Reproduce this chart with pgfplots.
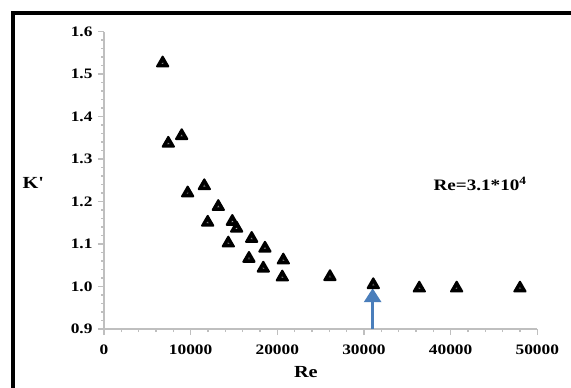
\documentclass[border=0pt]{standalone}
\usepackage{pgfplots}
\pgfplotsset{compat=1.18}
\usepackage{pgfplotstable}
\usepackage{fontspec}
\setmainfont{Liberation Serif}[FakeStretch=1.2]
\usetikzlibrary{arrows.meta}
\definecolor{axisgray}{RGB}{191,191,191}
\definecolor{arrowblue}{RGB}{74,126,187}

% K' against Reynolds number
\pgfplotstableread{
Re     K
6770   1.526
7420   1.337
8965   1.355
9657   1.220
11573  1.237
11965  1.151
13188  1.188
14342  1.102
14803  1.153
15311  1.137
16730  1.066
17042  1.113
18380  1.043
18576  1.090
20572  1.022
20688  1.062
26076  1.023
31072  1.004
36380  0.996
40695  0.996
48000  0.996
}\kdata

\begin{document}
\begin{tikzpicture}
\path[use as bounding box] (0bp,0bp) rectangle (571bp,-388bp);
% frame (left and top edges)
\draw[line width=4bp] (13bp,-388bp) -- (13bp,-12.5bp) -- (571bp,-12.5bp);
\begin{axis}[
  at={(104bp,-329bp)}, anchor=south west,
  scale only axis, width=433.3bp, height=297.3bp,
  xmin=0, xmax=50000, ymin=0.9, ymax=1.6,
  clip=false,
  axis x line*=bottom, axis y line*=left,
  axis line style={-, axisgray, line width=2.2bp},
  xtick={0,10000,...,50000},
  ytick={0.9,1.0,1.1,1.2,1.3,1.4,1.5,1.6},
  minor x tick num=4, minor y tick num=4,
  xtick pos=left, ytick pos=left,
  tick align=outside,
  major tick length=6bp, minor tick length=3bp,
  tick style={axisgray, line width=1.5bp},
  scaled x ticks=false,
  ticklabel style={font=\bfseries\fontsize{14.5}{14.5}\selectfont},
  /pgf/number format/assume math mode=true,
  xticklabel style={/pgf/number format/1000 sep={}, yshift=-6bp},
  yticklabel style={/pgf/number format/fixed,
    /pgf/number format/precision=1,
    /pgf/number format/fixed zerofill, xshift=-2bp},
  xlabel={Re}, ylabel={K\textquotesingle},
  label style={font=\bfseries\fontsize{17}{17}\selectfont},
  xlabel style={at={(axis description cs:0.466,-0.145)}, anchor=center},
  ylabel style={at={(axis description cs:-0.164,0.491)}, anchor=center, rotate=-90},
]
\draw[arrowblue, line width=3bp, -{Triangle[width=17bp,length=14bp]}]
  (axis cs:31000,0.9) -- (axis cs:31000,0.996);
% solid triangles with a small light centre
\addplot[only marks, mark=triangle*, mark size=6.5bp,
  mark options={fill=black, draw=black, line width=2bp, line join=round}]
  table[x=Re, y=K] {\kdata};
\addplot[only marks, mark=triangle*, mark size=1.3bp,
  mark options={fill=white, draw=none}]
  table[x=Re, y=K] {\kdata};
\node[font=\bfseries\fontsize{16}{16}\selectfont] at (axis cs:43400,1.241)
  {Re=3.1*10\textsuperscript{4}};
\end{axis}
\end{tikzpicture}
\end{document}
